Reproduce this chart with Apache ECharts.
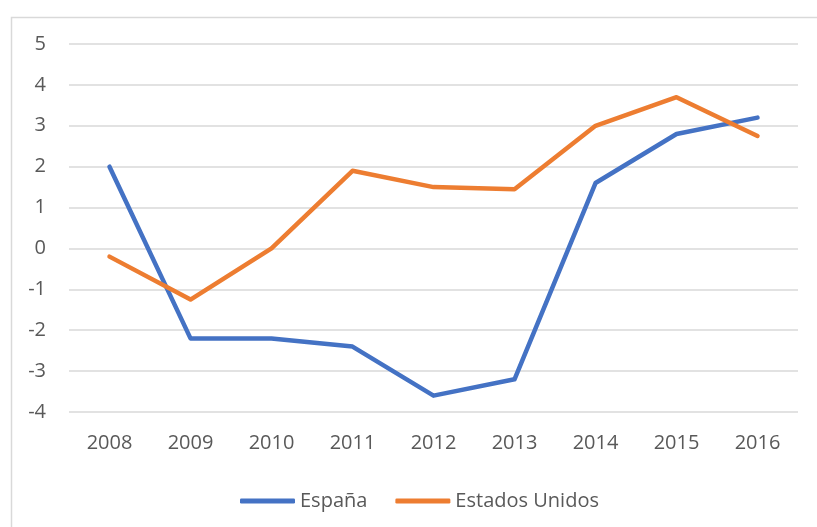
<!DOCTYPE html>
<html>
<head>
<meta charset="utf-8">
<script src="https://cdn.jsdelivr.net/npm/echarts@6/dist/echarts.min.js"></script>
<style>
  html, body { margin: 0; padding: 0; background: #fff; }
  #main { width: 817px; height: 527px; }
</style>
</head>
<body>
<div id="main"></div>
<script>
var chart = echarts.init(document.getElementById('main'));

var years = ['2008', '2009', '2010', '2011', '2012', '2013', '2014', '2015', '2016'];
var espana = [2.0, -2.2, -2.2, -2.4, -3.6, -3.2, 1.6, 2.8, 3.2];
var eeuu = [-0.2, -1.25, 0.0, 1.9, 1.5, 1.45, 3.0, 3.7, 2.75];

var colors = ['#4472C4', '#ED7D31'];
var textColor = '#595959';
var font = '"Open Sans", sans-serif';

var option = {
  color: colors,
  animation: false,
  textStyle: { fontFamily: font },
  graphic: [{
    // chart border, only top and left edges visible
    type: 'rect',
    left: 9, top: 15,
    shape: { width: 900, height: 600 },
    style: { fill: 'none', stroke: '#d9d9d9', lineWidth: 1.5 },
    silent: true
  }],
  legend: {
    data: ['España', 'Estados Unidos'],
    left: 235,
    top: 486,
    icon: 'roundRect',
    itemWidth: 55,
    itemHeight: 5,
    itemGap: 28,
    textStyle: { color: textColor, fontSize: 20, fontFamily: font }
  },
  grid: {
    left: 69,
    right: 19,
    top: 44,
    bottom: 115
  },
  xAxis: {
    type: 'category',
    data: years,
    boundaryGap: true,
    axisLine: { show: false },
    axisTick: { show: false },
    axisLabel: { color: textColor, fontSize: 20, margin: 21, fontFamily: font }
  },
  yAxis: {
    type: 'value',
    min: -4,
    max: 5,
    interval: 1,
    axisLine: { show: false },
    axisTick: { show: false },
    axisLabel: { color: textColor, fontSize: 20, margin: 23, fontFamily: font },
    splitLine: { lineStyle: { color: '#d9d9d9', width: 1.5 } }
  },
  series: [
    {
      name: 'España',
      type: 'line',
      data: espana,
      symbol: 'none',
      lineStyle: { width: 4.5, cap: 'round', join: 'round' }
    },
    {
      name: 'Estados Unidos',
      type: 'line',
      data: eeuu,
      symbol: 'none',
      lineStyle: { width: 4.5, cap: 'round', join: 'round' }
    }
  ]
};

chart.setOption(option);
</script>
</body>
</html>
